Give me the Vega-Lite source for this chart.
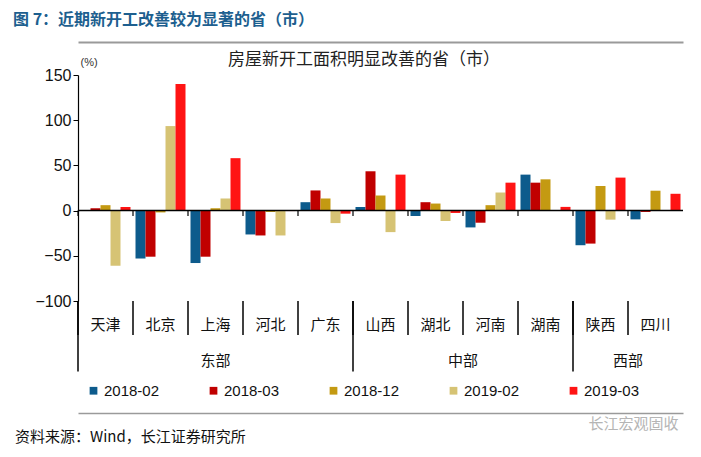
{
  "$schema": "https://vega.github.io/schema/vega-lite/v6.json",
  "width": 605,
  "height": 226,
  "autosize": {"type": "none"},
  "padding": {"left": 78, "top": 75, "right": 18, "bottom": 156},
  "background": "white",
  "config": {"view": {"stroke": null}, "font": "Liberation Sans, Noto Sans CJK SC"},
  "title": {"text": "图 7：近期新开工改善较为显著的省（市）", "anchor": "start", "frame": "group", "dx": -65, "offset": 14, "fontSize": 16, "font": "Noto Sans CJK SC", "fontWeight": "bold", "color": "#1d5f8f"},
  "datasets": {
    "bars": [
      {"province": "天津", "series": "2018-02", "value": 0},
      {"province": "天津", "series": "2018-03", "value": 2.6},
      {"province": "天津", "series": "2018-12", "value": 6},
      {"province": "天津", "series": "2019-02", "value": -61},
      {"province": "天津", "series": "2019-03", "value": 4},
      {"province": "北京", "series": "2018-02", "value": -53},
      {"province": "北京", "series": "2018-03", "value": -51},
      {"province": "北京", "series": "2018-12", "value": -2},
      {"province": "北京", "series": "2019-02", "value": 93.5},
      {"province": "北京", "series": "2019-03", "value": 140},
      {"province": "上海", "series": "2018-02", "value": -58},
      {"province": "上海", "series": "2018-03", "value": -51},
      {"province": "上海", "series": "2018-12", "value": 2.6},
      {"province": "上海", "series": "2019-02", "value": 13.4},
      {"province": "上海", "series": "2019-03", "value": 58},
      {"province": "河北", "series": "2018-02", "value": -26.4},
      {"province": "河北", "series": "2018-03", "value": -27.5},
      {"province": "河北", "series": "2018-12", "value": -1.5},
      {"province": "河北", "series": "2019-02", "value": -27.5},
      {"province": "河北", "series": "2019-03", "value": -0.5},
      {"province": "广东", "series": "2018-02", "value": 9.3},
      {"province": "广东", "series": "2018-03", "value": 22.3},
      {"province": "广东", "series": "2018-12", "value": 13.4},
      {"province": "广东", "series": "2019-02", "value": -13.8},
      {"province": "广东", "series": "2019-03", "value": -3.4},
      {"province": "山西", "series": "2018-02", "value": 4},
      {"province": "山西", "series": "2018-03", "value": 43.5},
      {"province": "山西", "series": "2018-12", "value": 16.7},
      {"province": "山西", "series": "2019-02", "value": -23.8},
      {"province": "山西", "series": "2019-03", "value": 39.8},
      {"province": "湖北", "series": "2018-02", "value": -6},
      {"province": "湖北", "series": "2018-03", "value": 9.3},
      {"province": "湖北", "series": "2018-12", "value": 7.8},
      {"province": "湖北", "series": "2019-02", "value": -11.5},
      {"province": "湖北", "series": "2019-03", "value": -2.6},
      {"province": "河南", "series": "2018-02", "value": -18.6},
      {"province": "河南", "series": "2018-03", "value": -13.4},
      {"province": "河南", "series": "2018-12", "value": 6},
      {"province": "河南", "series": "2019-02", "value": 20},
      {"province": "河南", "series": "2019-03", "value": 30.9},
      {"province": "湖南", "series": "2018-02", "value": 39.8},
      {"province": "湖南", "series": "2018-03", "value": 30.9},
      {"province": "湖南", "series": "2018-12", "value": 34.6},
      {"province": "湖南", "series": "2019-02", "value": 0},
      {"province": "湖南", "series": "2019-03", "value": 4.1},
      {"province": "陕西", "series": "2018-02", "value": -38.3},
      {"province": "陕西", "series": "2018-03", "value": -36.5},
      {"province": "陕西", "series": "2018-12", "value": 27.2},
      {"province": "陕西", "series": "2019-02", "value": -10},
      {"province": "陕西", "series": "2019-03", "value": 36.5},
      {"province": "四川", "series": "2018-02", "value": -9.7},
      {"province": "四川", "series": "2018-03", "value": -1.5},
      {"province": "四川", "series": "2018-12", "value": 22},
      {"province": "四川", "series": "2019-02", "value": 0},
      {"province": "四川", "series": "2019-03", "value": 18.6}
    ],
    "provinces": [
      {"province": "天津", "region": "东部"},
      {"province": "北京", "region": "东部"},
      {"province": "上海", "region": "东部"},
      {"province": "河北", "region": "东部"},
      {"province": "广东", "region": "东部"},
      {"province": "山西", "region": "中部"},
      {"province": "湖北", "region": "中部"},
      {"province": "河南", "region": "中部"},
      {"province": "湖南", "region": "中部"},
      {"province": "陕西", "region": "西部"},
      {"province": "四川", "region": "西部"}
    ],
    "regionStarts": [
      {"province": "天津", "region": "东部"},
      {"province": "山西", "region": "中部"},
      {"province": "陕西", "region": "西部"}
    ],
    "regionCenters": [
      {"province": "上海", "region": "东部", "even": false},
      {"province": "河南", "region": "中部", "even": true},
      {"province": "四川", "region": "西部", "even": true}
    ],
    "baseline": [
      {"value": 0}
    ],
    "notes": [
      {"kind": "title", "province": "山西", "text": "房屋新开工面积明显改善的省（市）"},
      {"kind": "source", "province": "天津", "text": "资料来源：Wind，长江证券研究所"},
      {"kind": "mark", "province": "四川", "text": "长江宏观固收"}
    ]
  },
  "resolve": {"axis": {"x": "independent", "y": "independent"}},
  "layer": [
    {
      "data": {"name": "bars"},
      "mark": {"type": "bar"},
      "encoding": {
        "x": {"field": "province", "type": "nominal",
              "scale": {"domain": ["天津","北京","上海","河北","广东","山西","湖北","河南","湖南","陕西","四川"], "paddingInner": 0, "paddingOuter": 0},
              "axis": {"orient": "bottom", "offset": 112, "labels": false, "ticks": false, "title": null, "domainColor": "#9a9a9a", "domainWidth": 1.5}},
        "xOffset": {"field": "series", "type": "nominal", "scale": {"domain": ["2018-02","2018-03","2018-12","2019-02","2019-03"], "paddingInner": 0, "paddingOuter": 0.25}},
        "y": {"field": "value", "type": "quantitative", "scale": {"domain": [-100, 150], "nice": false, "zero": false},
              "axis": {"orient": "left", "title": "(%)", "titleAngle": 0, "titleAlign": "left", "titleBaseline": "middle", "titleX": 2, "titleY": -13, "titleFontSize": 11, "titleFontWeight": "normal", "titleColor": "#333",
                       "values": [-100, -50, 0, 50, 100, 150], "labelFontSize": 16, "labelColor": "#111", "labelPadding": 2,
                       "domain": true, "domainColor": "#000", "domainWidth": 1.2, "ticks": true, "tickColor": "#000", "tickSize": 5, "grid": false, "labels": true}},
        "color": {"field": "series", "type": "nominal",
                  "scale": {"domain": ["2018-02","2018-03","2018-12","2019-02","2019-03"], "range": ["#0d5b8c", "#c00000", "#c49a12", "#d6c374", "#ff1414"]},
                  "legend": {"orient": "none", "legendX": 8, "legendY": 308, "direction": "horizontal", "title": null,
                             "symbolType": "square", "symbolSize": 60, "symbolStrokeWidth": 0, "labelFontSize": 15, "labelColor": "#111",
                             "labelOffset": 3, "columnPadding": 46}}
      }
    },
    {
      "data": {"name": "baseline"},
      "mark": {"type": "rule", "color": "#000", "strokeWidth": 1.5},
      "encoding": {
        "y": {"field": "value", "type": "quantitative", "scale": {"domain": [-100, 150]}, "axis": null}
      }
    },
    {
      "data": {"name": "provinces"},
      "mark": {"type": "rule", "color": "#000", "strokeWidth": 1.2},
      "encoding": {
        "x": {"field": "province", "type": "nominal", "scale": {"domain": ["天津","北京","上海","河北","广东","山西","湖北","河南","湖南","陕西","四川"]}, "bandPosition": 0,
              "axis": {"orient": "top", "offset": 33, "labels": false, "ticks": false, "title": null, "domainColor": "#9a9a9a", "domainWidth": 2}},
        "y": {"datum": 0, "type": "quantitative", "scale": {"domain": [-100, 150]}, "axis": null},
        "y2": {"datum": -6}
      }
    },
    {
      "data": {"name": "provinces"},
      "mark": {"type": "rule", "color": "#000", "strokeWidth": 1.5},
      "encoding": {
        "x": {"field": "province", "type": "nominal", "scale": {"domain": ["天津","北京","上海","河北","广东","山西","湖北","河南","湖南","陕西","四川"]}, "bandPosition": 0, "axis": null},
        "y": {"datum": -100, "type": "quantitative", "scale": {"domain": [-100, 150]}, "axis": null},
        "y2": {"datum": -137.6}
      }
    },
    {
      "data": {"name": "regionStarts"},
      "mark": {"type": "rule", "color": "#000", "strokeWidth": 1.5},
      "encoding": {
        "x": {"field": "province", "type": "nominal", "scale": {"domain": ["天津","北京","上海","河北","广东","山西","湖北","河南","湖南","陕西","四川"]}, "bandPosition": 0, "axis": null},
        "y": {"datum": -100, "type": "quantitative", "scale": {"domain": [-100, 150]}, "axis": null},
        "y2": {"datum": -178}
      }
    },
    {
      "data": {"name": "provinces"},
      "mark": {"type": "text", "font": "Noto Sans CJK SC", "fontSize": 15, "color": "#111", "baseline": "middle"},
      "encoding": {
        "x": {"field": "province", "type": "nominal", "scale": {"domain": ["天津","北京","上海","河北","广东","山西","湖北","河南","湖南","陕西","四川"]}, "axis": null},
        "y": {"datum": -126.5, "type": "quantitative", "scale": {"domain": [-100, 150]}, "axis": null},
        "text": {"field": "province"}
      }
    },
    {
      "data": {"name": "regionCenters"},
      "transform": [{"filter": "!datum.even"}],
      "mark": {"type": "text", "font": "Noto Sans CJK SC", "fontSize": 15, "color": "#111", "baseline": "middle"},
      "encoding": {
        "x": {"field": "province", "type": "nominal", "scale": {"domain": ["天津","北京","上海","河北","广东","山西","湖北","河南","湖南","陕西","四川"]}, "bandPosition": 0.5, "axis": null},
        "y": {"datum": -166, "type": "quantitative", "scale": {"domain": [-100, 150]}, "axis": null},
        "text": {"field": "region"}
      }
    },
    {
      "data": {"name": "regionCenters"},
      "transform": [{"filter": "datum.even"}],
      "mark": {"type": "text", "font": "Noto Sans CJK SC", "fontSize": 15, "color": "#111", "baseline": "middle"},
      "encoding": {
        "x": {"field": "province", "type": "nominal", "scale": {"domain": ["天津","北京","上海","河北","广东","山西","湖北","河南","湖南","陕西","四川"]}, "bandPosition": 0, "axis": null},
        "y": {"datum": -166, "type": "quantitative", "scale": {"domain": [-100, 150]}, "axis": null},
        "text": {"field": "region"}
      }
    },
    {
      "data": {"name": "notes"},
      "transform": [{"filter": "datum.kind === 'title'"}],
      "mark": {"type": "text", "font": "Noto Sans CJK SC", "fontSize": 17, "color": "#222", "baseline": "middle"},
      "encoding": {
        "x": {"field": "province", "type": "nominal", "scale": {"domain": ["天津","北京","上海","河北","广东","山西","湖北","河南","湖南","陕西","四川"]}, "bandPosition": 0.2, "axis": null},
        "y": {"datum": 167, "type": "quantitative", "scale": {"domain": [-100, 150]}, "axis": null},
        "text": {"field": "text"}
      }
    },
    {
      "data": {"name": "notes"},
      "transform": [{"filter": "datum.kind === 'source'"}],
      "mark": {"type": "text", "font": "Noto Sans CJK SC", "fontSize": 15, "color": "#111", "baseline": "middle", "align": "left", "dx": -63},
      "encoding": {
        "x": {"field": "province", "type": "nominal", "scale": {"domain": ["天津","北京","上海","河北","广东","山西","湖北","河南","湖南","陕西","四川"]}, "bandPosition": 0, "axis": null},
        "y": {"datum": -250.4, "type": "quantitative", "scale": {"domain": [-100, 150]}, "axis": null},
        "text": {"field": "text"}
      }
    },
    {
      "data": {"name": "notes"},
      "transform": [{"filter": "datum.kind === 'mark'"}],
      "mark": {"type": "text", "font": "Noto Sans CJK SC", "fontSize": 15, "color": "#b5b5b5", "baseline": "middle", "align": "center"},
      "encoding": {
        "x": {"field": "province", "type": "nominal", "scale": {"domain": ["天津","北京","上海","河北","广东","山西","湖北","河南","湖南","陕西","四川"]}, "bandPosition": 0.1, "axis": null},
        "y": {"datum": -236, "type": "quantitative", "scale": {"domain": [-100, 150]}, "axis": null},
        "text": {"field": "text"}
      }
    }
  ]
}
